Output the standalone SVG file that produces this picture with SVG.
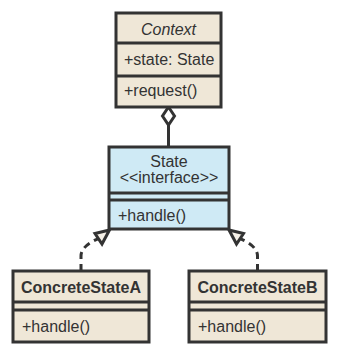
<svg xmlns="http://www.w3.org/2000/svg" width="338" height="354" viewBox="0 0 338 354">
  <style>
    .box { stroke: #333; stroke-width: 3; }
    .beige { fill: #efe7d7; }
    .blue { fill: #cfeaf5; }
    .div { stroke: #333; stroke-width: 3; }
    text { font-family: "Liberation Sans", Arial, sans-serif; font-size: 16px; fill: #333; }
    .c { text-anchor: middle; }
    .b { font-weight: bold; }
    .i { font-style: italic; }
    .conn { fill: none; stroke: #333; stroke-width: 3; }
    .dash { stroke-dasharray: 7 5; }
    .head { fill: #f6f1e8; stroke: #333; stroke-width: 3; stroke-linejoin: miter; }
    .dmd { fill: #ffffff; stroke: #333; stroke-width: 3; stroke-linejoin: miter; }
  </style>

  <g id="connectors">
    <path class="conn" d="M168.5,125 V147"/>
    <polygon class="dmd" points="168.5,107 174.5,116 168.5,125 162.5,116"/>
    <path class="conn dash" d="M81,271 V256 C81,248 90,242 98.5,238.7"/>
    <polygon class="head" points="109.5,230 95,233.5 102,244"/>
    <path class="conn dash" d="M257.5,271 V256 C257.5,248 248.5,242 240,238.7"/>
    <polygon class="head" points="229,230 243.5,233.5 236.5,244"/>
  </g>

  <g id="Context">
    <rect class="box beige" x="116" y="13" width="105" height="94"/>
    <line class="div" x1="116" y1="43" x2="221" y2="43"/>
    <line class="div" x1="116" y1="76" x2="221" y2="76"/>
    <text class="c i" x="168.5" y="35">Context</text>
    <text x="124" y="65">+state: State</text>
    <text x="124" y="96">+request()</text>
  </g>

  <g id="State">
    <rect class="box blue" x="109" y="147" width="120" height="82"/>
    <line class="div" x1="109" y1="193" x2="229" y2="193"/>
    <line class="div" x1="109" y1="200" x2="229" y2="200"/>
    <text class="c" x="169" y="167">State</text>
    <text class="c" x="169" y="183">&lt;&lt;interface&gt;&gt;</text>
    <text x="118" y="221">+handle()</text>
  </g>

  <g id="ConcreteStateA">
    <rect class="box beige" x="13" y="271" width="136" height="71"/>
    <line class="div" x1="13" y1="302" x2="149" y2="302"/>
    <line class="div" x1="13" y1="310" x2="149" y2="310"/>
    <text class="c b" x="81" y="293">ConcreteStateA</text>
    <text x="22" y="332">+handle()</text>
  </g>

  <g id="ConcreteStateB">
    <rect class="box beige" x="189" y="271" width="137" height="71"/>
    <line class="div" x1="189" y1="302" x2="326" y2="302"/>
    <line class="div" x1="189" y1="310" x2="326" y2="310"/>
    <text class="c b" x="257.5" y="293">ConcreteStateB</text>
    <text x="198" y="332">+handle()</text>
  </g>
</svg>
